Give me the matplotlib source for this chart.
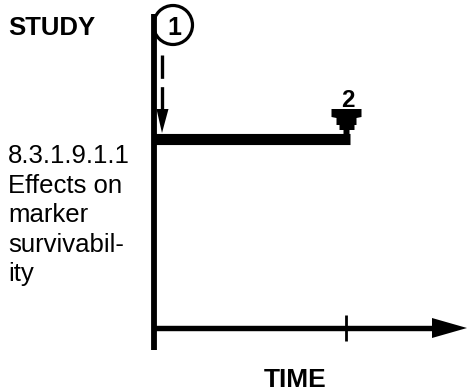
import matplotlib
matplotlib.use("Agg")
import matplotlib.pyplot as plt
from matplotlib.patches import Ellipse, Polygon

# ---- data ----
header_label = "STUDY"
study_lines = ["8.3.1.9.1.1", "Effects on", "marker", "survivabil-", "ity"]
axis_label = "TIME"
activity_start = 0.0
activity_end = 1.0
time_ticks = [1.0]
start_milestone = "1"
end_milestone = "2"

W, H = 467, 392
X0, SCALE = 153.5, 192.0   # pixel of time 0, pixels per time unit

plt.rcParams['font.family'] = ['Liberation Sans', 'DejaVu Sans']
fig = plt.figure(figsize=(W / 100, H / 100), dpi=100)
ax = fig.add_axes([0, 0, 1, 1])
ax.set_xlim(-X0 / SCALE, (W - X0) / SCALE)
ax.set_ylim(H, 0)
ax.axis('off')

def px(p):
    """pixel column -> time units"""
    return (p - X0) / SCALE

def w(p):
    return p / SCALE

# vertical axis
ax.plot([activity_start, activity_start], [14, 350], color='black', lw=4.2, solid_capstyle='butt')
# horizontal time axis
ax.plot([activity_start, px(436)], [328, 328], color='black', lw=3.9, solid_capstyle='butt')
ax.add_patch(Polygon([[px(432), 318], [px(467), 328], [px(432), 338]], closed=True,
                     color='black', lw=0))
for t in time_ticks:
    ax.plot([t, t], [315, 341], color='black', lw=2.0, solid_capstyle='butt')

# activity bar
ax.plot([activity_start, activity_end + w(4)], [138.5, 138.5], color='black', lw=8.0,
        solid_capstyle='butt')

# start milestone circle "1"
cx, cy, r = 173, 25, 19.5
ax.add_patch(Ellipse((px(cx), cy), w(2 * r), 2 * r, fill=False, ec='black', lw=2.3))
ax.text(px(cx + 1), cy + 9.5, start_milestone, ha='center', va='baseline', fontsize=18,
        fontweight='bold')

# dashed arrow
ax.plot([px(162), px(162)], [55, 112], color='black', lw=2.4, dashes=(7, 2.5))
ax.add_patch(Polygon([[px(156.5), 109], [px(168.5), 109], [px(162), 133]], closed=True,
                     color='black', lw=0))

# end milestone symbol
mx = activity_end
sym = [(331, 109), (361, 109), (361, 117), (356, 118), (356, 125), (354, 125),
       (354, 130), (349, 130), (349, 138), (343, 138), (343, 130), (339, 130),
       (339, 125), (336, 125), (336, 118), (331, 117)]
ax.add_patch(Polygon([[mx + w(x - 345), y] for x, y in sym], closed=True,
                     color='black', lw=0))
ax.text(mx + w(2), 106.5, end_milestone, ha='center', va='baseline', fontsize=17.5,
        fontweight='bold')

# texts
ax.text(px(8), 35, header_label, ha='left', va='baseline', fontsize=18.5, fontweight='bold')
for i, line in enumerate(study_lines):
    ax.text(px(8), 163 + 29.5 * i, line, ha='left', va='baseline', fontsize=18.5)
ax.text(px(295), 387, axis_label, ha='center', va='baseline', fontsize=19, fontweight='bold')

fig.savefig("out.png", dpi=100)
